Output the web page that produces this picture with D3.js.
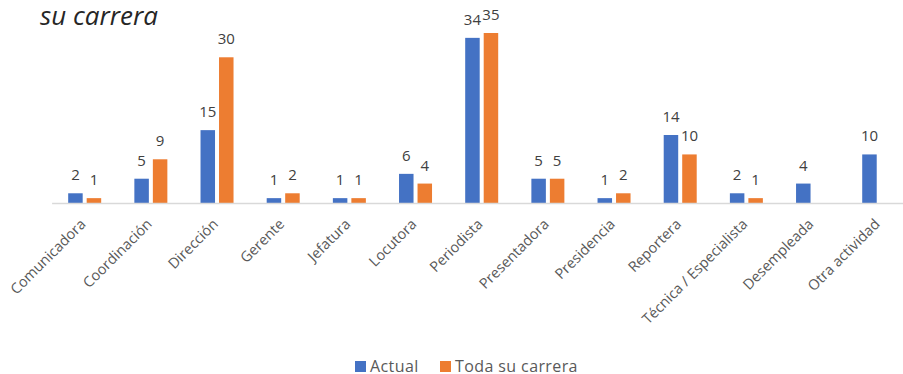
<!DOCTYPE html>
<html>
<head>
<meta charset="utf-8">
<script src="https://cdn.jsdelivr.net/npm/d3@7"></script>
<style>
  html, body { margin: 0; padding: 0; background: #fff; overflow: hidden; }
  svg { display: block; }
</style>
</head>
<body>
<svg id="chart" width="903" height="374"></svg>
<script>
const categories = ["Comunicadora", "Coordinación", "Dirección", "Gerente", "Jefatura", "Locutora",
  "Periodista", "Presentadora", "Presidencia", "Reportera", "Técnica / Especialista", "Desempleada", "Otra actividad"];
const seriesNames = ["Actual", "Toda su carrera"];
const actual = [2, 5, 15, 1, 1, 6, 34, 5, 1, 14, 2, 4, 10];
const todaSuCarrera = [1, 9, 30, 2, 1, 4, 35, 5, 2, 10, 1, null, null];
const colors = ["#4472C4", "#ED7D31"];
const titleText = "su carrera";

const svg = d3.select("#chart");
const font = "'Open Sans', 'DejaVu Sans', sans-serif";

const baseY = 203;
const x0 = d3.scaleBand().domain(categories).range([51.6, 911.8]).paddingInner(0).paddingOuter(0);
const x1 = d3.scaleBand().domain(seriesNames).range([-16.5, 16.5]).paddingInner(4 / 18.5).paddingOuter(0);
const y = d3.scaleLinear().domain([0, 35]).range([baseY, 33]);

// title
svg.append("text")
  .attr("x", 40).attr("y", 25)
  .attr("font-family", font).attr("font-style", "italic")
  .attr("font-size", 26).attr("fill", "#262626")
  .text(titleText);

const data = categories.map((c, i) => ({ cat: c, vals: [actual[i], todaSuCarrera[i]] }));

const groups = svg.append("g").selectAll("g").data(data).join("g")
  .attr("transform", d => `translate(${x0(d.cat) + x0.bandwidth() / 2},0)`);

groups.selectAll("rect")
  .data(d => d.vals.map((v, j) => ({ v, s: seriesNames[j], j })).filter(e => e.v != null))
  .join("rect")
  .attr("x", e => x1(e.s))
  .attr("width", x1.bandwidth())
  .attr("y", e => y(e.v))
  .attr("height", e => baseY - y(e.v))
  .attr("fill", e => colors[e.j]);

groups.selectAll("text.val")
  .data(d => d.vals.map((v, j) => ({ v, s: seriesNames[j], j })).filter(e => e.v != null))
  .join("text").attr("class", "val")
  .attr("x", e => x1(e.s) + x1.bandwidth() / 2)
  .attr("y", e => y(e.v) - 13)
  .attr("text-anchor", "middle")
  .attr("font-family", font).attr("font-size", 15).attr("fill", "#404040")
  .text(e => e.v);

// axis
const axis = d3.axisBottom(x0).tickSize(0).tickPadding(0);
const ax = svg.append("g").attr("transform", `translate(0,${baseY})`).call(axis);
ax.select(".domain").attr("stroke", "#D9D9D9").attr("stroke-width", 1.5);
ax.selectAll(".tick text")
  .attr("font-family", font).attr("font-size", 14.5).attr("fill", "#595959")
  .attr("text-anchor", "end")
  .attr("dy", "0")
  .attr("transform", "translate(2,22) rotate(-45)")
  .attr("y", 0).attr("x", 0);

// legend
const legend = svg.append("g");
const legX = [355, 440];
seriesNames.forEach((s, i) => {
  legend.append("rect").attr("x", legX[i]).attr("y", 361).attr("width", 11).attr("height", 11).attr("fill", colors[i]);
  legend.append("text").attr("x", legX[i] + 15).attr("y", 372)
    .attr("font-family", font).attr("font-size", 16).attr("letter-spacing", 0.4).attr("fill", "#595959")
    .text(s);
});
</script>
</body>
</html>
